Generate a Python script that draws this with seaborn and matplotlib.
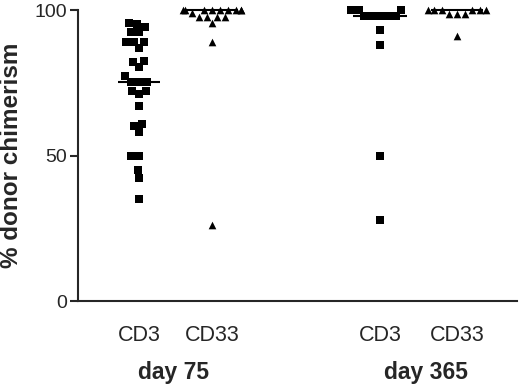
import numpy as np
import pandas as pd
import matplotlib
matplotlib.use("Agg")
import matplotlib.pyplot as plt
import matplotlib.transforms as mtransforms
import seaborn as sns

# values (% donor chimerism)
cd3_d75 = [95.4, 95.2, 94.3, 92.5, 92.5, 89.1, 89.1, 89.1, 87, 82.6, 82.2, 80.5, 77.3,
           75.4, 75.4, 75.4, 72.2, 72.2, 71, 67, 60.8, 60.1, 58, 50, 50, 45, 42.4, 35]
cd33_d75 = [100, 100, 100, 100, 100, 100, 100, 100, 100, 99, 97.5, 97.5, 97.5, 97.5,
            95.5, 89, 26]
cd3_d365 = [100, 100, 100, 98, 98, 98, 98, 98, 93, 88, 50, 28]
cd33_d365 = [100, 100, 100, 100, 100, 100, 98.5, 98.5, 98.5, 91]

series = [cd3_d75, cd33_d75, cd3_d365, cd33_d365]
markers = ["s", "^", "s", "^"]
tick_labels = ["CD3", "CD33", "CD3", "CD33"]
positions = [0, 1, 3.3, 4.35]
groups = ["day 75", "day 365"]
group_pos = [0.47, 3.92]
median_halfwidth = [0.29, 0.36, 0.37, 0.36]

sns.set_style("ticks")
plt.rcParams["font.family"] = ["Liberation Sans", "DejaVu Sans"]

fig = plt.figure(figsize=(5.2, 3.86), dpi=100)
ax = fig.add_axes([0.15, 0.22, 0.844, 0.754])

for vals, pos, mk, hw in zip(series, positions, markers, median_halfwidth):
    df = pd.DataFrame({"x": [pos] * len(vals), "y": vals})
    sns.swarmplot(data=df, x="x", y="y", native_scale=True, orient="x",
                  marker=mk, color="black", size=5.5, linewidth=0, ax=ax)
    med = np.median(vals)
    ax.hlines(med, pos - hw, pos + hw, color="black", lw=1.5, zorder=3)

for coll in ax.collections:
    coll.set_clip_on(False)

ax.set_xlim(-0.834, 5.17)
ax.set_ylim(0, 100)
ax.set_yticks([0, 50, 100])
ax.set_xticks(positions)
ax.set_xticklabels(tick_labels, fontsize=15.5)
ax.tick_params(axis="x", length=0, pad=17)
ax.tick_params(axis="y", length=6, width=1.5, labelsize=14, pad=2)
ax.set_xlabel("")
ax.set_ylabel("% donor chimerism", fontsize=17.5, fontweight="bold", labelpad=8)
for side in ["left", "bottom"]:
    ax.spines[side].set_linewidth(1.5)
sns.despine(ax=ax)

trans = mtransforms.blended_transform_factory(ax.transData, ax.transAxes)
for g, gp in zip(groups, group_pos):
    ax.text(gp, -0.245, g, transform=trans, ha="center", va="center",
            fontsize=16.5, fontweight="bold")

fig.savefig("out.png", dpi=100)
